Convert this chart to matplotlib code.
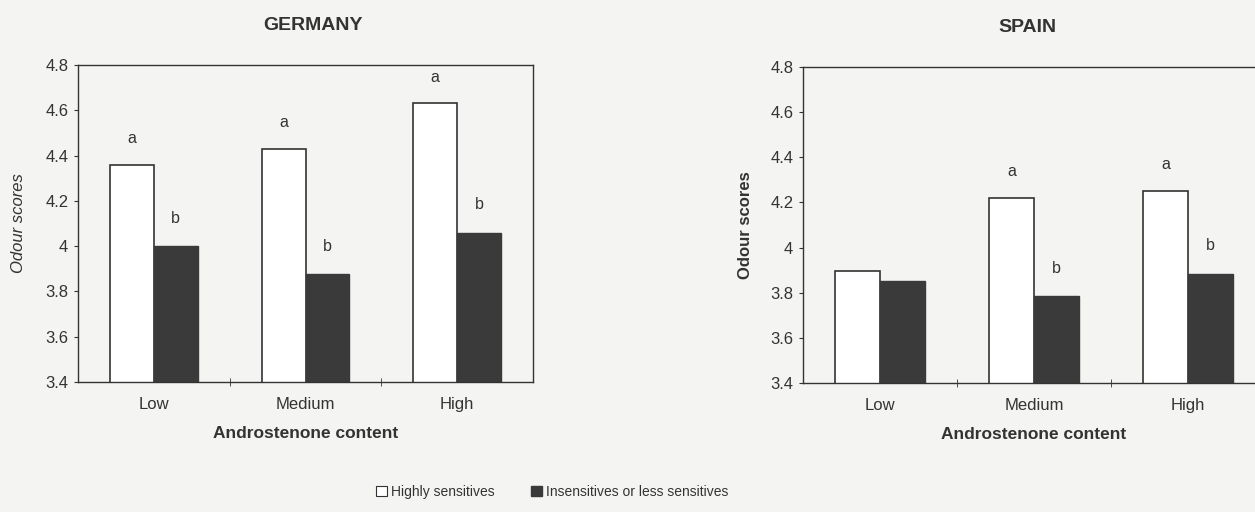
import numpy as np
import matplotlib.pyplot as plt
from matplotlib.patches import Patch

plt.rcParams['font.family'] = ['Liberation Sans', 'DejaVu Sans']

# data
levels = ['Low', 'Medium', 'High']
germany_high = [4.36, 4.43, 4.63]
germany_low = [4.00, 3.875, 4.06]
spain_high = [3.895, 4.22, 4.25]
spain_low = [3.85, 3.785, 3.885]
germany_high_letters = ['a', 'a', 'a']
germany_low_letters = ['b', 'b', 'b']
spain_high_letters = ['', 'a', 'a']
spain_low_letters = ['', 'b', 'b']

bg = '#f4f4f2'
dark = '#3a3a3a'
txt = '#333333'

fig = plt.figure(figsize=(12.55, 5.12), dpi=100, facecolor=bg)

ax_de = fig.add_axes([78 / 1255, 1 - 382 / 512, 455 / 1255, 317 / 512])
ax_es = fig.add_axes([803 / 1255, 1 - 383 / 512, 462 / 1255, 316 / 512])


def draw_panel(ax, title, high, low, high_letters, low_letters, italic_ylabel):
    x = np.arange(len(levels))
    w = 0.29
    ax.set_facecolor(bg)
    ax.bar(x - w / 2, high, w, bottom=0, color='white', edgecolor=txt, linewidth=1.2)
    ax.bar(x + w / 2, low, w, bottom=0, color=dark, edgecolor=dark, linewidth=1.0)
    for xi, h, lab in zip(x, high, high_letters):
        if lab:
            ax.annotate(lab, (xi - w / 2, h), xytext=(0, 19), textcoords='offset points',
                        ha='center', va='center', fontsize=11.5, color=txt)
    for xi, h, lab in zip(x, low, low_letters):
        if lab:
            ax.annotate(lab, (xi + w / 2, h), xytext=(0, 20), textcoords='offset points',
                        ha='center', va='center', fontsize=11.5, color=txt)

    ax.set_xlim(-0.5, 2.5)
    ax.set_ylim(3.4, 4.8)
    ax.set_yticks(np.arange(3.4, 4.81, 0.2))
    ax.set_yticklabels(['3.4', '3.6', '3.8', '4', '4.2', '4.4', '4.6', '4.8'])
    ax.set_xticks(x)
    ax.set_xticklabels(levels)
    ax.set_xticks([0.5, 1.5], minor=True)
    ax.tick_params(axis='x', which='major', length=0, pad=11, labelsize=12, labelcolor=txt)
    ax.tick_params(axis='x', which='minor', length=6, direction='inout', color=txt)
    ax.tick_params(axis='y', length=3, direction='out', labelsize=12, labelcolor=txt, color=txt, pad=4)
    for s in ax.spines.values():
        s.set_color(txt)
        s.set_linewidth(1.0)

    ax.set_title(title, fontsize=14, fontweight='bold', color=txt, pad=25)
    ax.set_xlabel('Androstenone content', fontsize=12.5, fontweight='bold', color=txt, labelpad=10)
    if italic_ylabel:
        ax.set_ylabel('Odour scores', fontsize=12, style='italic', color=txt, labelpad=14)
    else:
        ax.set_ylabel('Odour scores', fontsize=12, fontweight='bold', color=txt, labelpad=12)


draw_panel(ax_de, 'GERMANY', germany_high, germany_low, germany_high_letters, germany_low_letters, True)
draw_panel(ax_es, 'SPAIN', spain_high, spain_low, spain_high_letters, spain_low_letters, False)
# title positions as in the original
ax_de.title.set_position((0.517, 1.0))
ax_es.title.set_position((0.485, 1.0))

handles = [Patch(facecolor='white', edgecolor=txt, linewidth=0.8),
           Patch(facecolor=dark, edgecolor=dark)]
fig.legend(handles, ['Highly sensitives', 'Insensitives or less sensitives'],
           loc='center', bbox_to_anchor=(552 / 1255, 1 - 492 / 512), ncol=2, frameon=False,
           fontsize=10, handlelength=0.8, handleheight=0.8, handletextpad=0.3,
           columnspacing=2.6, labelcolor=txt)

fig.savefig('out.png', dpi=100, facecolor=bg)
